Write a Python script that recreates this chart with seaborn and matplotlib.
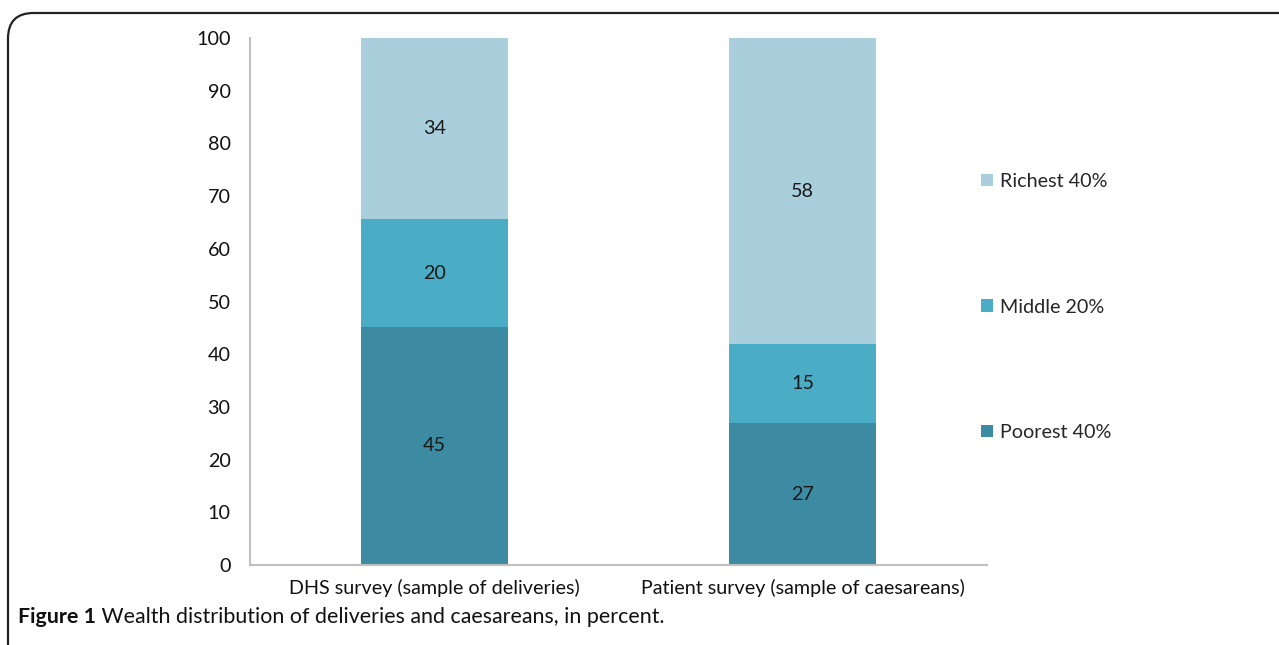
import matplotlib
matplotlib.use("Agg")
import matplotlib.pyplot as plt
from matplotlib.patches import FancyBboxPatch, Patch
import numpy as np
import pandas as pd
import seaborn as sns

# --- Datos ---
categories = ["DHS survey (sample of deliveries)", "Patient survey (sample of caesareans)"]
poorest = [45.2, 26.9]
middle = [20.4, 15.0]
richest = [34.4, 58.1]
shown_poorest = [45, 27]
shown_middle = [20, 15]
shown_richest = [34, 58]
series_names = ["Poorest 40%", "Middle 20%", "Richest 40%"]
colors = ["#3d8ba3", "#4bacc6", "#a9cedc"]
yticks = list(range(0, 101, 10))
caption_bold = "Figure 1"
caption_rest = " Wealth distribution of deliveries and caesareans, in percent."

df = pd.DataFrame({"cat": categories, "Poorest": poorest,
                   "Middle": middle, "Richest": richest})
df["cum_mid"] = df["Poorest"] + df["Middle"]
df["cum_top"] = df["cum_mid"] + df["Richest"]

sns.set_style("white")
plt.rcParams["font.family"] = ["Lato", "DejaVu Sans"]
FS = 14.2

fig = plt.figure(figsize=(12.79, 6.45), dpi=100)
ax = fig.add_axes([0.1955, 0.124, 0.5762, 0.817])

# Barras apiladas: se dibujan los totales acumulados de arriba hacia abajo
sns.barplot(data=df, x="cat", y="cum_top", color=colors[2], width=0.4,
            saturation=1, ax=ax, linewidth=0)
sns.barplot(data=df, x="cat", y="cum_mid", color=colors[1], width=0.4,
            saturation=1, ax=ax, linewidth=0)
sns.barplot(data=df, x="cat", y="Poorest", color=colors[0], width=0.4,
            saturation=1, ax=ax, linewidth=0)

# Etiquetas de valores
for i in range(len(categories)):
    ax.text(i, poorest[i] / 2, str(shown_poorest[i]), ha="center", va="center",
            fontsize=FS, color="#1a1a1a")
    ax.text(i, poorest[i] + middle[i] / 2, str(shown_middle[i]), ha="center",
            va="center", fontsize=FS, color="#1a1a1a")
    ax.text(i, poorest[i] + middle[i] + richest[i] / 2, str(shown_richest[i]),
            ha="center", va="center", fontsize=FS, color="#1a1a1a")

ax.set_xlim(-0.5, 1.5)
ax.set_ylim(0, 100)
ax.set_yticks(yticks)
ax.set_yticklabels([str(t) for t in yticks], fontsize=FS, color="#111111")
ax.set_xlabel("")
ax.set_ylabel("")

# Ejes estilo Excel
for side in ["top", "right"]:
    ax.spines[side].set_visible(False)
for side in ["left", "bottom"]:
    ax.spines[side].set_color("#bfbfbf")
    ax.spines[side].set_linewidth(1.5)
ax.set_xticks([0, 1])
ax.set_xticklabels(categories, fontsize=FS, color="#111111")
ax.tick_params(axis="x", length=0, pad=10)
ax.set_xticks([-0.5, 0.5, 1.5], minor=True)
ax.tick_params(axis="x", which="minor", length=6, color="#bfbfbf", width=1.5,
               direction="out")
ax.tick_params(axis="y", length=6, color="#bfbfbf", width=1.5,
               direction="out", pad=8)

# Leyenda
handles = [Patch(facecolor=colors[k], edgecolor="none", label=series_names[k])
           for k in [2, 1, 0]]
fig.legend(handles=handles, loc="center left", bbox_to_anchor=(0.7595, 0.524),
           frameon=False, fontsize=FS, handlelength=0.6, handleheight=0.6,
           handletextpad=0.35, labelspacing=5.5, borderpad=0)

# Pie de figura
t1 = fig.text(0.014, 0.044, caption_bold, fontsize=15.4, fontweight="bold",
              color="#111111", va="center")
fig.canvas.draw()
bb = t1.get_window_extent()
x_next = bb.x1 / fig.bbox.width
fig.text(x_next, 0.044, caption_rest, fontsize=15.4, color="#111111", va="center")

# Marco redondeado
frame = FancyBboxPatch((8 / 1279, -0.2), 1.2, (645 - 13) / 645 + 0.2,
                       boxstyle="round,pad=0,rounding_size=0.02",
                       transform=fig.transFigure, facecolor="none",
                       edgecolor="#222222", linewidth=1.6, clip_on=False,
                       mutation_aspect=1279 / 645)
fig.patches.append(frame)

fig.savefig("out.png", dpi=100)
